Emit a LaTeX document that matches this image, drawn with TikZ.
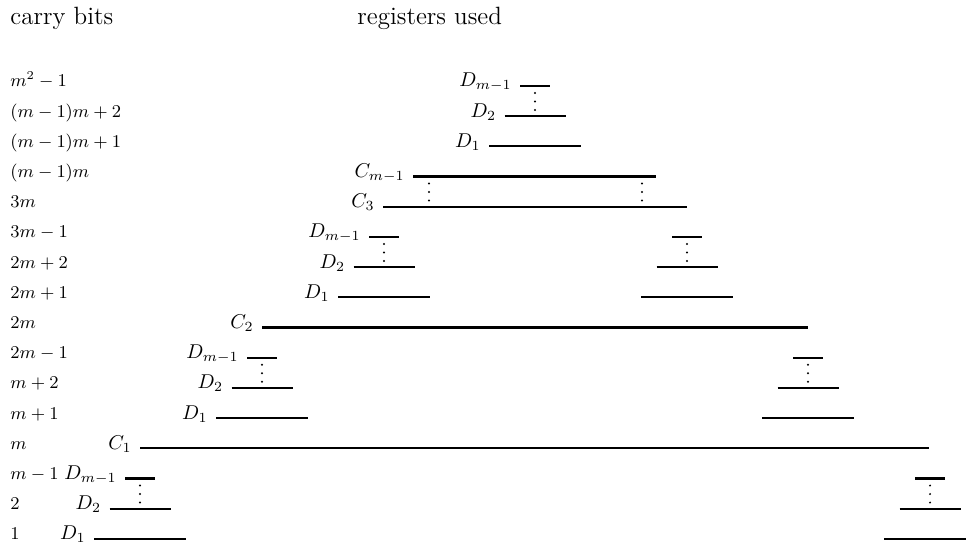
\documentclass[tikz,border=0pt]{standalone}
\usepackage{fontspec}
\newcommand\dstack[6]{% #1 name, #2 centre x, #3 #4 #5 row y, #6 draw labels (1/0)
  \draw[bar] ({#2-15},#3) coordinate (#1t) -- ({#2+15},#3);
  \draw[bar] ({#2-30.5},#4) coordinate (#1m) -- ({#2+30.5},#4);
  \draw[bar] ({#2-46},#5) coordinate (#1b) -- ({#2+46},#5);
  \fill ({#2},{#3+7}) circle (0.55pt) ({#2},{#3+15.5}) circle (0.55pt) ({#2},{#3+24}) circle (0.55pt);
  \ifnum#6=1
    \node[reglab] (#1Lt) at ([xshift=-4pt,yshift=-0.5pt]#1t) {$D_{m-1}$};
    \node[reglab] (#1Lm) at ([xshift=-4pt,yshift=-0.5pt]#1m) {$D_2$};
    \node[reglab] (#1Lb) at ([xshift=-4pt,yshift=-0.5pt]#1b) {$D_1$};
  \fi
}
\begin{document}
\begin{tikzpicture}[x=0.5pt,y=-0.5pt,
  bar/.style={line width=1.1pt},
  rowlab/.style={anchor=base west,inner sep=0pt,font=\fontsize{9}{11}\selectfont},
  reglab/.style={anchor=base east,inner sep=0pt,font=\fontsize{10}{12}\selectfont},
  head/.style={anchor=base west,inner sep=0pt,font=\fontsize{12.5}{15}\selectfont}]
\useasboundingbox (0,0) rectangle (966,545);
\clip (0,0) rectangle (966,545);
% headers
\node[head] (h1) at (10,25) {carry bits};
\node[head] (h2) at (357,25) {registers used};
% row labels
\node[rowlab] (r1)  at (10,87)    {$m^2-1$};
\node[rowlab] (r2)  at (10,117.2) {$(m-1)m+2$};
\node[rowlab] (r3)  at (10,147.4) {$(m-1)m+1$};
\node[rowlab] (r4)  at (10,177.6) {$(m-1)m$};
\node[rowlab] (r5)  at (10,207.8) {$3m$};
\node[rowlab] (r6)  at (10,238)   {$3m-1$};
\node[rowlab] (r7)  at (10,268.2) {$2m+2$};
\node[rowlab] (r8)  at (10,298.4) {$2m+1$};
\node[rowlab] (r9)  at (10,328.6) {$2m$};
\node[rowlab] (r10) at (10,358.8) {$2m-1$};
\node[rowlab] (r11) at (10,389)   {$m+2$};
\node[rowlab] (r12) at (10,419.2) {$m+1$};
\node[rowlab] (r13) at (10,449.4) {$m$};
\node[rowlab] (r14) at (10,479.6) {$m-1$};
\node[rowlab] (r15) at (10,509.8) {$2$};
\node[rowlab] (r16) at (10,540)   {$1$};
% D stacks
\dstack{A}{535}{86}{116.2}{146.4}{1}
\dstack{BL}{384}{237}{267.2}{297.4}{1}
\dstack{BR}{687}{237}{267.2}{297.4}{0}
\dstack{CL}{262}{357.8}{388}{418.2}{1}
\dstack{CR}{808}{357.8}{388}{418.2}{0}
\dstack{DL}{140}{478.6}{508.8}{539}{1}
\dstack{DR}{930}{478.6}{508.8}{539}{0}
% C registers
\draw[bar] (413,176.6) coordinate (cm1) -- (656,176.6);
\draw[bar] (383,206.8) coordinate (c3) -- (687,206.8);
\draw[bar] (262,327.6) coordinate (c2) -- (808,327.6);
\draw[bar] (140,448.4) coordinate (c1) -- (929,448.4);
\node[reglab] (lcm1) at ([xshift=-4pt,yshift=-0.5pt]cm1) {$C_{m-1}$};
\node[reglab] (lc3) at ([xshift=-4pt,yshift=-0.5pt]c3) {$C_3$};
\node[reglab] (lc2) at ([xshift=-4pt,yshift=-0.5pt]c2) {$C_2$};
\node[reglab] (lc1) at ([xshift=-4pt,yshift=-0.5pt]c1) {$C_1$};
\foreach \x in {429,642}
  \fill (\x,183.6) circle (0.55pt) (\x,192.1) circle (0.55pt) (\x,200.6) circle (0.55pt);
\end{tikzpicture}
\end{document}
